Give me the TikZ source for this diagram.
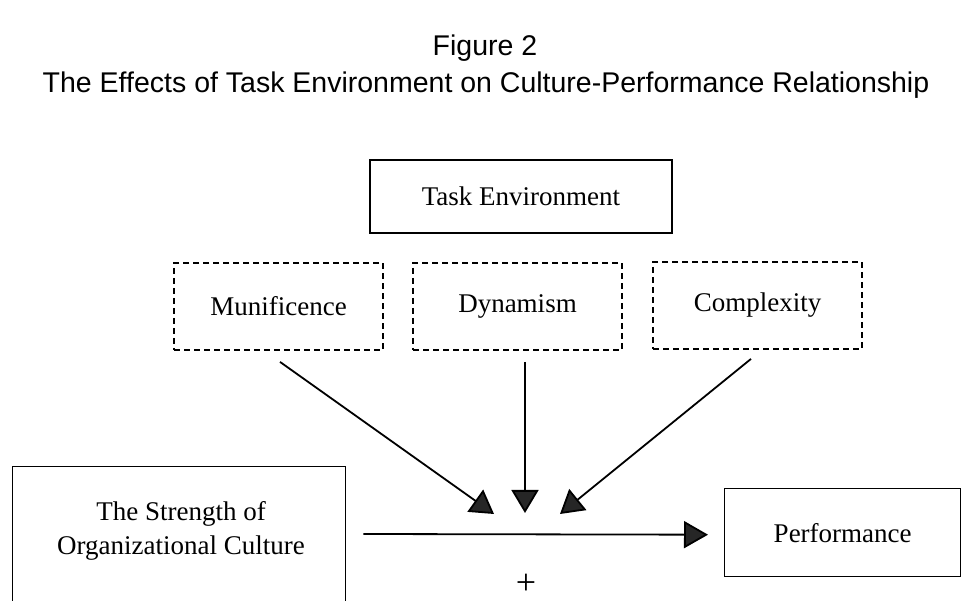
\documentclass[tikz,border=0pt]{standalone}
\usepackage{fontspec}
\setmainfont{Liberation Serif}
\newfontfamily\titlefont{Liberation Sans}
\usetikzlibrary{arrows.meta,calc}

\tikzset{
  boxtext/.style={font=\fontsize{27}{34}\selectfont, align=center},
  solidbox/.style={draw=black, line width=1.4pt, inner sep=0pt},
  dashbox/.style={draw=black, line width=1.8pt, dash pattern=on 6pt off 4pt, inner sep=0pt,
                  minimum width=209pt, minimum height=87pt, boxtext},
  titletext/.style={font=\titlefont\fontsize{28.5}{32}\selectfont},
  effect/.style={draw=black, line width=1.8pt,
                 -{Triangle[length=23pt, width=27pt, fill=black!85]}},
}

\begin{document}
\begin{tikzpicture}[x=1pt, y=-1pt]
  \useasboundingbox (0,0) rectangle (970,601);
  \clip (0,0) rectangle (970,601);

  % heading
  \node[titletext] (fig) at (485,48) {Figure 2};
  \node[titletext] (title) at (486,85) {The Effects of Task Environment on Culture-Performance Relationship};

  % environment and its three dimensions
  \node[solidbox, boxtext, minimum width=302pt, minimum height=73pt] (env) at (521,196.5) {Task Environment};
  \node[dashbox] (mun)  at (278.5,306.5) {Munificence};
  \node[dashbox] (dyn)  at (517.5,306.5) {Dynamism};
  \node[dashbox] (comp) at (757.5,305.5) {Complexity};

  % culture and performance
  \node[solidbox, anchor=north west, minimum width=333pt, minimum height=180pt] (culture) at (12,466) {};
  \node[boxtext] (culturetext) at (181,531) {The Strength of\\Organizational Culture};
  \node[solidbox, boxtext, anchor=north west, minimum width=236pt, minimum height=88pt] (perf) at (724,488) {Performance};

  % main relationship
  \coordinate (linkstart) at ($(culture.north east)+(17,68)$);
  \coordinate (linkend) at ($(perf.west)+(-16,2)$);
  \draw[effect, -{Triangle[length=24pt, width=27pt, fill=black!85]}] (linkstart) -- (linkend);
  \node[font=\fontsize{36}{36}\selectfont] (plus) at (526,584) {+};

  % moderating effects
  \coordinate (munstart) at ($(mun.south)+(1.5,11)$);
  \coordinate (dynstart) at ($(dyn.south)+(7.5,11)$);
  \coordinate (compstart) at ($(comp.south)+(-6.5,9)$);
  \coordinate (muntip) at (494,514);
  \coordinate (dyntip) at (525,513);
  \coordinate (comptip) at (560,514);
  \draw[effect] (munstart) -- (muntip);
  \draw[effect] (dynstart) -- (dyntip);
  \draw[effect] (compstart) -- (comptip);
\end{tikzpicture}
\end{document}
